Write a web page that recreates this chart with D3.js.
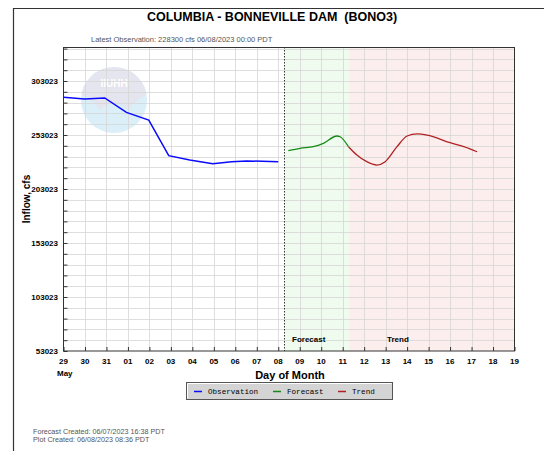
<!DOCTYPE html>
<html><head><meta charset="utf-8">
<script src="https://cdn.jsdelivr.net/npm/d3@7"></script>
<style>
body{margin:0;background:#fff;}
svg text{font-family:"Liberation Sans",Arial,sans-serif;white-space:pre;}
</style></head>
<body><svg id="c" width="544" height="451"></svg>
<script>
// ---- data ----
const dayLabels = ["29","30","31","01","02","03","04","05","06","07","08","09","10","11","12","13","14","15","16","17","18","19"];
const yTickValues = [53023,103023,153023,203023,253023,303023];
const obsDays   = [0, 0.98, 1.92, 2.93, 3.97, 4.9, 5.88, 6.95, 7.83, 8.53, 10];
const obsValues = [288000, 286400, 287300, 274000, 266900, 233900, 229900, 226500, 228300, 229000, 228300];
const fcDays    = [10.47, 11.01, 11.63, 12.1, 12.73, 12.88, 13.27];
const fcValues  = [238500, 240700, 242200, 245300, 252100, 251400, 242200];
const trDays    = [13.27, 13.66, 14.12, 14.59, 14.98, 15.53, 16.0, 16.46, 16.93, 18.0, 18.64, 19.26];
const trValues  = [242200, 234500, 228300, 225200, 228300, 242200, 252100, 254000, 253000, 245900, 242200, 237500];
const forecastStart = 10.29, forecastEnd = 13.3;
const legendItems = [["Observation","#0a0aff"],["Forecast","#168a16"],["Trend","#b02222"]];

// ---- layout ----
const L=63.5, R=514.5, T=47, B=351;
const svg = d3.select("#c");
const x = d3.scaleLinear().domain([0,21]).range([L,R]);
const y = d3.scaleLinear().domain([53023,334504]).range([B,T]);

// outer frame
svg.append("path").attr("d","M13.5,451 V8.5 H544").attr("fill","none").attr("stroke","#333").attr("stroke-width",1.2);

// title
svg.append("text").attr("x",272).attr("y",21).attr("text-anchor","middle")
  .attr("font-size",12.5).attr("font-weight","bold").text("COLUMBIA - BONNEVILLE DAM  (BONO3)");
svg.append("text").attr("x",91).attr("y",41.5).attr("font-size",7.5).attr("fill","#555")
  .text("Latest Observation: 228300 cfs 06/08/2023 00:00 PDT");

// backgrounds
svg.append("rect").attr("x",x(forecastStart)).attr("y",T).attr("width",x(forecastEnd)-x(forecastStart)).attr("height",B-T).attr("fill","#effbef");
svg.append("rect").attr("x",x(forecastEnd)).attr("y",T).attr("width",R-x(forecastEnd)).attr("height",B-T).attr("fill","#fdeeee");

// logo watermark
const lg = svg.append("g").attr("opacity",0.9);
lg.append("circle").attr("cx",114).attr("cy",100).attr("r",33).attr("fill","#d6eef7");
lg.append("clipPath").attr("id","lc").append("circle").attr("cx",114).attr("cy",100).attr("r",33);
lg.append("path").attr("clip-path","url(#lc)")
  .attr("d","M70,60 H160 V90 Q140,94 128,110 Q114,96 100,110 Q88,94 70,90 Z").attr("fill","#e2e3ee");
lg.append("text").attr("x",114).attr("y",87).attr("text-anchor","middle").attr("font-size",10).attr("font-weight","bold").attr("fill","#fff").text("IIUHH");

// grid
const gridY = d3.range(63023, 334504, 10000);
svg.append("g").selectAll("line").data(gridY).join("line")
  .attr("x1",L).attr("x2",R).attr("y1",d=>Math.round(y(d))+0.5).attr("y2",d=>Math.round(y(d))+0.5)
  .attr("stroke","#d6d6d6").attr("stroke-opacity",0.8);
svg.append("g").selectAll("line").data(d3.range(1,21)).join("line")
  .attr("x1",d=>Math.round(x(d))+0.5).attr("x2",d=>Math.round(x(d))+0.5).attr("y1",T).attr("y2",B)
  .attr("stroke","#d6d6d6").attr("stroke-opacity",0.8);

// dashed forecast start line
svg.append("line").attr("x1",Math.round(x(forecastStart))+0.5).attr("x2",Math.round(x(forecastStart))+0.5)
  .attr("y1",T).attr("y2",B).attr("stroke","#333").attr("stroke-dasharray","1.5,1.5");

// axes (ticks pointing inward)
const yAxis = d3.axisRight(y).tickValues(d3.range(53023,334504,10000)).tickSize(4).tickFormat("");
svg.append("g").attr("transform",`translate(${L},0)`).call(yAxis)
  .call(g=>g.select(".domain").remove()).selectAll("line").attr("stroke","#333");
svg.append("g").selectAll("text").data(yTickValues).join("text")
  .attr("x",58).attr("y",d=>y(d)+3).attr("text-anchor","end").attr("font-size",8).attr("font-weight","bold")
  .text(d=>d);
const xAxis = d3.axisTop(x).tickValues(d3.range(0,22)).tickSize(4).tickFormat("");
svg.append("g").attr("transform",`translate(0,${B})`).call(xAxis)
  .call(g=>g.select(".domain").remove()).selectAll("line").attr("stroke","#333");
svg.append("g").selectAll("text").data(dayLabels).join("text")
  .attr("x",(d,i)=>x(i)).attr("y",364).attr("text-anchor","middle").attr("font-size",8).attr("font-weight","bold")
  .text(d=>d);
svg.append("text").attr("x",57).attr("y",376).attr("font-size",8).attr("font-weight","bold").text("May");
svg.append("text").attr("x",290).attr("y",379).attr("text-anchor","middle").attr("font-size",11).attr("font-weight","bold").text("Day of Month");
svg.append("text").attr("transform","translate(30,199) rotate(-90)").attr("text-anchor","middle")
  .attr("font-size",10).attr("font-weight","bold").text("Inflow, cfs");

// region labels
svg.append("text").attr("x",292).attr("y",342).attr("font-size",8).attr("font-weight","bold").text("Forecast");
svg.append("text").attr("x",387).attr("y",342).attr("font-size",8).attr("font-weight","bold").text("Trend");

// plot border
svg.append("rect").attr("x",L).attr("y",T+0.5).attr("width",R-L).attr("height",B-T-0.5).attr("fill","none").attr("stroke","#333");

// series
const line = d3.line().x(d=>x(d[0])).y(d=>y(d[1]));
svg.append("path").datum(obsDays.map((d,i)=>[d,obsValues[i]])).attr("d",line)
  .attr("fill","none").attr("stroke",legendItems[0][1]).attr("stroke-width",1.5);
const sm = d3.line().x(d=>x(d[0])).y(d=>y(d[1])).curve(d3.curveMonotoneX);
svg.append("path").datum(fcDays.map((d,i)=>[d,fcValues[i]])).attr("d",sm)
  .attr("fill","none").attr("stroke",legendItems[1][1]).attr("stroke-width",1.3);
svg.append("path").datum(trDays.map((d,i)=>[d,trValues[i]])).attr("d",sm)
  .attr("fill","none").attr("stroke",legendItems[2][1]).attr("stroke-width",1.3);

// legend
const lgd = svg.append("g");
lgd.append("rect").attr("x",186.5).attr("y",382.5).attr("width",206).attr("height",17).attr("fill","#d4d4d4").attr("stroke","#555");
lgd.append("path").attr("d","M187.5,398.5 V383.5 H391.5").attr("fill","none").attr("stroke","#fff");
const lx = [194, 273, 338];
legendItems.forEach((it,i)=>{
  lgd.append("line").attr("x1",lx[i]).attr("x2",lx[i]+8).attr("y1",391.5).attr("y2",391.5).attr("stroke",it[1]).attr("stroke-width",1.5);
  lgd.append("text").attr("x",lx[i]+14).attr("y",394).attr("font-size",7.6)
    .style("font-family","'Liberation Mono','DejaVu Sans Mono',monospace").text(it[0]);
});

// footer
svg.append("text").attr("x",33).attr("y",434).attr("font-size",7.2).attr("fill","#555").text("Forecast Created: 06/07/2023 16:38 PDT");
svg.append("text").attr("x",33).attr("y",442).attr("font-size",7.2).attr("fill","#555").text("Plot Created: 06/08/2023 08:36 PDT");
</script></body></html>
